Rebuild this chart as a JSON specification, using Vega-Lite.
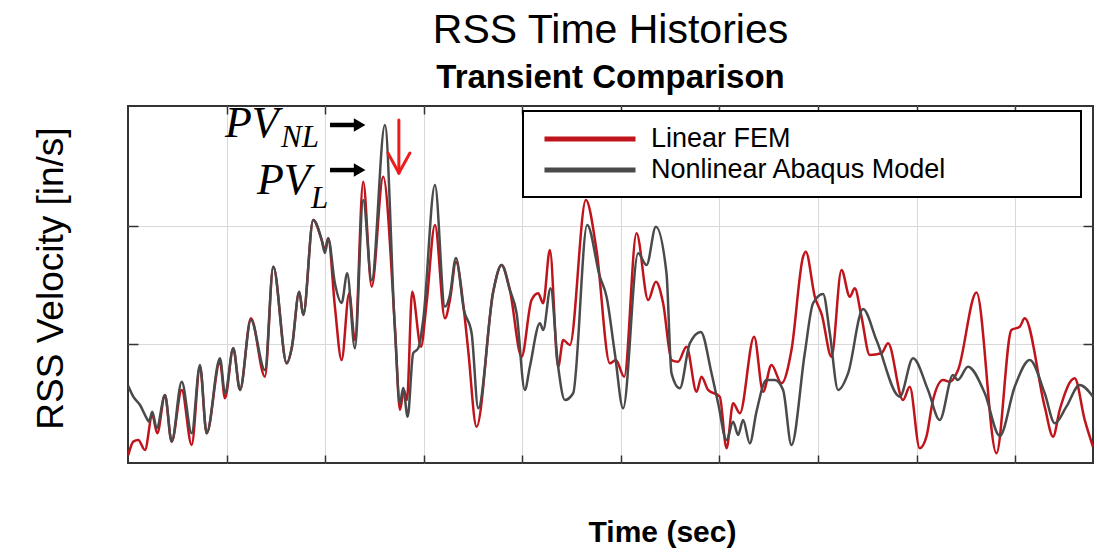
{
  "$schema": "https://vega.github.io/schema/vega-lite/v6.json",
  "width": 965,
  "height": 357,
  "autosize": "none",
  "padding": {"left": 128, "top": 106, "right": 4, "bottom": 95},
  "background": "white",
  "title": {
    "text": "RSS Time Histories",
    "subtitle": "Transient Comparison",
    "anchor": "middle",
    "font": "Liberation Sans",
    "fontSize": 41,
    "fontWeight": "normal",
    "color": "black",
    "subtitleFont": "Liberation Sans",
    "subtitleFontSize": 33,
    "subtitleFontWeight": "bold",
    "subtitleColor": "black",
    "subtitlePadding": 10,
    "offset": 6
  },
  "config": {
    "view": {"stroke": "#333333", "strokeWidth": 2},
    "axis": {"labels": false, "domain": false, "tickColor": "#333333", "tickWidth": 1.5}
  },
  "datasets": {
    "rss": [
      {"t":0.003,"v":0.067,"series":"Linear FEM"},{"t":0.054,"v":0.180,"series":"Linear FEM"},{"t":0.104,"v":0.194,"series":"Linear FEM"},{"t":0.172,"v":0.110,"series":"Linear FEM"},{"t":0.246,"v":0.405,"series":"Linear FEM"},{"t":0.297,"v":0.250,"series":"Linear FEM"},{"t":0.375,"v":0.573,"series":"Linear FEM"},{"t":0.443,"v":0.180,"series":"Linear FEM"},{"t":0.545,"v":0.616,"series":"Linear FEM"},{"t":0.646,"v":0.152,"series":"Linear FEM"},{"t":0.730,"v":0.812,"series":"Linear FEM"},{"t":0.798,"v":0.250,"series":"Linear FEM"},{"t":0.933,"v":0.854,"series":"Linear FEM"},{"t":0.984,"v":0.546,"series":"Linear FEM"},{"t":1.068,"v":0.967,"series":"Linear FEM"},{"t":1.136,"v":0.616,"series":"Linear FEM"},{"t":1.247,"v":1.220,"series":"Linear FEM"},{"t":1.389,"v":0.728,"series":"Linear FEM"},{"t":1.474,"v":1.655,"series":"Linear FEM"},{"t":1.610,"v":0.841,"series":"Linear FEM"},{"t":1.663,"v":0.978,"series":"Linear FEM"},{"t":1.737,"v":1.444,"series":"Linear FEM"},{"t":1.778,"v":1.248,"series":"Linear FEM"},{"t":1.879,"v":2.049,"series":"Linear FEM"},{"t":1.965,"v":1.880,"series":"Linear FEM"},{"t":1.998,"v":1.796,"series":"Linear FEM"},{"t":2.031,"v":1.895,"series":"Linear FEM"},{"t":2.099,"v":1.318,"series":"Linear FEM"},{"t":2.167,"v":0.868,"series":"Linear FEM"},{"t":2.244,"v":1.431,"series":"Linear FEM"},{"t":2.302,"v":1.037,"series":"Linear FEM"},{"t":2.386,"v":2.372,"series":"Linear FEM"},{"t":2.472,"v":1.487,"series":"Linear FEM"},{"t":2.589,"v":2.414,"series":"Linear FEM"},{"t":2.708,"v":1.149,"series":"Linear FEM"},{"t":2.759,"v":0.447,"series":"Linear FEM"},{"t":2.799,"v":0.616,"series":"Linear FEM"},{"t":2.830,"v":0.531,"series":"Linear FEM"},{"t":2.883,"v":1.444,"series":"Linear FEM"},{"t":2.972,"v":0.981,"series":"Linear FEM"},{"t":3.029,"v":1.347,"series":"Linear FEM"},{"t":3.114,"v":2.007,"series":"Linear FEM"},{"t":3.215,"v":1.220,"series":"Linear FEM"},{"t":3.266,"v":1.374,"series":"Linear FEM"},{"t":3.327,"v":1.695,"series":"Linear FEM"},{"t":3.408,"v":1.290,"series":"Linear FEM"},{"t":3.451,"v":0.953,"series":"Linear FEM"},{"t":3.536,"v":0.306,"series":"Linear FEM"},{"t":3.705,"v":1.444,"series":"Linear FEM"},{"t":3.790,"v":1.669,"series":"Linear FEM"},{"t":3.874,"v":1.459,"series":"Linear FEM"},{"t":3.993,"v":0.896,"series":"Linear FEM"},{"t":4.094,"v":1.374,"series":"Linear FEM"},{"t":4.161,"v":1.431,"series":"Linear FEM"},{"t":4.212,"v":1.347,"series":"Linear FEM"},{"t":4.280,"v":1.796,"series":"Linear FEM"},{"t":4.364,"v":0.812,"series":"Linear FEM"},{"t":4.415,"v":1.037,"series":"Linear FEM"},{"t":4.483,"v":0.995,"series":"Linear FEM"},{"t":4.645,"v":2.218,"series":"Linear FEM"},{"t":4.753,"v":1.796,"series":"Linear FEM"},{"t":4.888,"v":0.841,"series":"Linear FEM"},{"t":4.949,"v":0.868,"series":"Linear FEM"},{"t":5.034,"v":0.728,"series":"Linear FEM"},{"t":5.159,"v":1.937,"series":"Linear FEM"},{"t":5.277,"v":1.374,"series":"Linear FEM"},{"t":5.355,"v":1.529,"series":"Linear FEM"},{"t":5.429,"v":1.347,"series":"Linear FEM"},{"t":5.514,"v":0.868,"series":"Linear FEM"},{"t":5.581,"v":0.854,"series":"Linear FEM"},{"t":5.666,"v":0.981,"series":"Linear FEM"},{"t":5.768,"v":0.601,"series":"Linear FEM"},{"t":5.818,"v":0.728,"series":"Linear FEM"},{"t":5.885,"v":0.616,"series":"Linear FEM"},{"t":6.004,"v":0.559,"series":"Linear FEM"},{"t":6.072,"v":0.124,"series":"Linear FEM"},{"t":6.139,"v":0.503,"series":"Linear FEM"},{"t":6.207,"v":0.419,"series":"Linear FEM"},{"t":6.352,"v":1.065,"series":"Linear FEM"},{"t":6.443,"v":0.601,"series":"Linear FEM"},{"t":6.528,"v":0.826,"series":"Linear FEM"},{"t":6.630,"v":0.672,"series":"Linear FEM"},{"t":6.731,"v":0.953,"series":"Linear FEM"},{"t":6.849,"v":1.740,"series":"Linear FEM"},{"t":6.876,"v":1.782,"series":"Linear FEM"},{"t":6.968,"v":1.402,"series":"Linear FEM"},{"t":7.039,"v":1.248,"series":"Linear FEM"},{"t":7.137,"v":0.896,"series":"Linear FEM"},{"t":7.238,"v":1.627,"series":"Linear FEM"},{"t":7.323,"v":1.402,"series":"Linear FEM"},{"t":7.373,"v":1.473,"series":"Linear FEM"},{"t":7.441,"v":1.234,"series":"Linear FEM"},{"t":7.525,"v":0.911,"series":"Linear FEM"},{"t":7.644,"v":0.925,"series":"Linear FEM"},{"t":7.711,"v":1.009,"series":"Linear FEM"},{"t":7.863,"v":0.531,"series":"Linear FEM"},{"t":7.931,"v":0.643,"series":"Linear FEM"},{"t":8.032,"v":0.124,"series":"Linear FEM"},{"t":8.100,"v":0.222,"series":"Linear FEM"},{"t":8.167,"v":0.531,"series":"Linear FEM"},{"t":8.269,"v":0.700,"series":"Linear FEM"},{"t":8.337,"v":0.683,"series":"Linear FEM"},{"t":8.421,"v":0.784,"series":"Linear FEM"},{"t":8.608,"v":1.438,"series":"Linear FEM"},{"t":8.810,"v":0.082,"series":"Linear FEM"},{"t":8.962,"v":1.121,"series":"Linear FEM"},{"t":9.047,"v":1.149,"series":"Linear FEM"},{"t":9.097,"v":1.220,"series":"Linear FEM"},{"t":9.300,"v":0.475,"series":"Linear FEM"},{"t":9.385,"v":0.222,"series":"Linear FEM"},{"t":9.452,"v":0.447,"series":"Linear FEM"},{"t":9.604,"v":0.714,"series":"Linear FEM"},{"t":9.706,"v":0.363,"series":"Linear FEM"},{"t":9.790,"v":0.137,"series":"Linear FEM"},
      {"t":0.003,"v":0.649,"series":"Nonlinear Abaqus Model"},{"t":0.054,"v":0.559,"series":"Nonlinear Abaqus Model"},{"t":0.122,"v":0.489,"series":"Nonlinear Abaqus Model"},{"t":0.190,"v":0.377,"series":"Nonlinear Abaqus Model"},{"t":0.213,"v":0.348,"series":"Nonlinear Abaqus Model"},{"t":0.246,"v":0.433,"series":"Nonlinear Abaqus Model"},{"t":0.291,"v":0.293,"series":"Nonlinear Abaqus Model"},{"t":0.375,"v":0.573,"series":"Nonlinear Abaqus Model"},{"t":0.443,"v":0.180,"series":"Nonlinear Abaqus Model"},{"t":0.545,"v":0.686,"series":"Nonlinear Abaqus Model"},{"t":0.646,"v":0.250,"series":"Nonlinear Abaqus Model"},{"t":0.730,"v":0.826,"series":"Nonlinear Abaqus Model"},{"t":0.798,"v":0.250,"series":"Nonlinear Abaqus Model"},{"t":0.933,"v":0.883,"series":"Nonlinear Abaqus Model"},{"t":0.984,"v":0.588,"series":"Nonlinear Abaqus Model"},{"t":1.068,"v":0.967,"series":"Nonlinear Abaqus Model"},{"t":1.136,"v":0.616,"series":"Nonlinear Abaqus Model"},{"t":1.247,"v":1.206,"series":"Nonlinear Abaqus Model"},{"t":1.389,"v":0.784,"series":"Nonlinear Abaqus Model"},{"t":1.474,"v":1.655,"series":"Nonlinear Abaqus Model"},{"t":1.610,"v":0.841,"series":"Nonlinear Abaqus Model"},{"t":1.663,"v":0.978,"series":"Nonlinear Abaqus Model"},{"t":1.737,"v":1.444,"series":"Nonlinear Abaqus Model"},{"t":1.778,"v":1.248,"series":"Nonlinear Abaqus Model"},{"t":1.879,"v":2.049,"series":"Nonlinear Abaqus Model"},{"t":1.965,"v":1.880,"series":"Nonlinear Abaqus Model"},{"t":1.998,"v":1.771,"series":"Nonlinear Abaqus Model"},{"t":2.031,"v":1.895,"series":"Nonlinear Abaqus Model"},{"t":2.099,"v":1.515,"series":"Nonlinear Abaqus Model"},{"t":2.167,"v":1.349,"series":"Nonlinear Abaqus Model"},{"t":2.224,"v":1.600,"series":"Nonlinear Abaqus Model"},{"t":2.302,"v":0.967,"series":"Nonlinear Abaqus Model"},{"t":2.386,"v":2.218,"series":"Nonlinear Abaqus Model"},{"t":2.472,"v":1.540,"series":"Nonlinear Abaqus Model"},{"t":2.606,"v":2.850,"series":"Nonlinear Abaqus Model"},{"t":2.708,"v":1.121,"series":"Nonlinear Abaqus Model"},{"t":2.759,"v":0.503,"series":"Nonlinear Abaqus Model"},{"t":2.792,"v":0.632,"series":"Nonlinear Abaqus Model"},{"t":2.837,"v":0.390,"series":"Nonlinear Abaqus Model"},{"t":2.893,"v":0.925,"series":"Nonlinear Abaqus Model"},{"t":2.944,"v":0.967,"series":"Nonlinear Abaqus Model"},{"t":2.995,"v":1.206,"series":"Nonlinear Abaqus Model"},{"t":3.114,"v":2.344,"series":"Nonlinear Abaqus Model"},{"t":3.215,"v":1.318,"series":"Nonlinear Abaqus Model"},{"t":3.266,"v":1.417,"series":"Nonlinear Abaqus Model"},{"t":3.327,"v":1.729,"series":"Nonlinear Abaqus Model"},{"t":3.408,"v":1.290,"series":"Nonlinear Abaqus Model"},{"t":3.486,"v":1.094,"series":"Nonlinear Abaqus Model"},{"t":3.553,"v":0.461,"series":"Nonlinear Abaqus Model"},{"t":3.705,"v":1.444,"series":"Nonlinear Abaqus Model"},{"t":3.790,"v":1.669,"series":"Nonlinear Abaqus Model"},{"t":3.874,"v":1.459,"series":"Nonlinear Abaqus Model"},{"t":3.942,"v":1.265,"series":"Nonlinear Abaqus Model"},{"t":4.026,"v":0.616,"series":"Nonlinear Abaqus Model"},{"t":4.077,"v":0.812,"series":"Nonlinear Abaqus Model"},{"t":4.179,"v":1.178,"series":"Nonlinear Abaqus Model"},{"t":4.212,"v":1.121,"series":"Nonlinear Abaqus Model"},{"t":4.287,"v":1.473,"series":"Nonlinear Abaqus Model"},{"t":4.364,"v":0.812,"series":"Nonlinear Abaqus Model"},{"t":4.432,"v":0.531,"series":"Nonlinear Abaqus Model"},{"t":4.516,"v":0.588,"series":"Nonlinear Abaqus Model"},{"t":4.658,"v":2.007,"series":"Nonlinear Abaqus Model"},{"t":4.787,"v":1.571,"series":"Nonlinear Abaqus Model"},{"t":4.855,"v":1.402,"series":"Nonlinear Abaqus Model"},{"t":4.939,"v":0.925,"series":"Nonlinear Abaqus Model"},{"t":5.023,"v":0.461,"series":"Nonlinear Abaqus Model"},{"t":5.175,"v":1.768,"series":"Nonlinear Abaqus Model"},{"t":5.261,"v":1.669,"series":"Nonlinear Abaqus Model"},{"t":5.355,"v":1.992,"series":"Nonlinear Abaqus Model"},{"t":5.463,"v":1.600,"series":"Nonlinear Abaqus Model"},{"t":5.514,"v":0.756,"series":"Nonlinear Abaqus Model"},{"t":5.598,"v":0.630,"series":"Nonlinear Abaqus Model"},{"t":5.700,"v":1.009,"series":"Nonlinear Abaqus Model"},{"t":5.811,"v":1.105,"series":"Nonlinear Abaqus Model"},{"t":5.920,"v":0.756,"series":"Nonlinear Abaqus Model"},{"t":5.987,"v":0.503,"series":"Nonlinear Abaqus Model"},{"t":6.072,"v":0.194,"series":"Nonlinear Abaqus Model"},{"t":6.139,"v":0.348,"series":"Nonlinear Abaqus Model"},{"t":6.190,"v":0.236,"series":"Nonlinear Abaqus Model"},{"t":6.240,"v":0.363,"series":"Nonlinear Abaqus Model"},{"t":6.308,"v":0.166,"series":"Nonlinear Abaqus Model"},{"t":6.376,"v":0.433,"series":"Nonlinear Abaqus Model"},{"t":6.477,"v":0.700,"series":"Nonlinear Abaqus Model"},{"t":6.562,"v":0.700,"series":"Nonlinear Abaqus Model"},{"t":6.646,"v":0.616,"series":"Nonlinear Abaqus Model"},{"t":6.731,"v":0.152,"series":"Nonlinear Abaqus Model"},{"t":6.866,"v":0.925,"series":"Nonlinear Abaqus Model"},{"t":6.950,"v":1.347,"series":"Nonlinear Abaqus Model"},{"t":7.052,"v":1.425,"series":"Nonlinear Abaqus Model"},{"t":7.120,"v":1.094,"series":"Nonlinear Abaqus Model"},{"t":7.204,"v":0.616,"series":"Nonlinear Abaqus Model"},{"t":7.305,"v":0.756,"series":"Nonlinear Abaqus Model"},{"t":7.457,"v":1.298,"series":"Nonlinear Abaqus Model"},{"t":7.593,"v":1.037,"series":"Nonlinear Abaqus Model"},{"t":7.830,"v":0.559,"series":"Nonlinear Abaqus Model"},{"t":7.964,"v":0.883,"series":"Nonlinear Abaqus Model"},{"t":8.116,"v":0.616,"series":"Nonlinear Abaqus Model"},{"t":8.235,"v":0.363,"series":"Nonlinear Abaqus Model"},{"t":8.370,"v":0.742,"series":"Nonlinear Abaqus Model"},{"t":8.418,"v":0.700,"series":"Nonlinear Abaqus Model"},{"t":8.522,"v":0.812,"series":"Nonlinear Abaqus Model"},{"t":8.692,"v":0.588,"series":"Nonlinear Abaqus Model"},{"t":8.844,"v":0.228,"series":"Nonlinear Abaqus Model"},{"t":8.996,"v":0.643,"series":"Nonlinear Abaqus Model"},{"t":9.148,"v":0.868,"series":"Nonlinear Abaqus Model"},{"t":9.300,"v":0.588,"series":"Nonlinear Abaqus Model"},{"t":9.402,"v":0.335,"series":"Nonlinear Abaqus Model"},{"t":9.520,"v":0.475,"series":"Nonlinear Abaqus Model"},{"t":9.655,"v":0.658,"series":"Nonlinear Abaqus Model"},{"t":9.790,"v":0.559,"series":"Nonlinear Abaqus Model"}
    ],
    "pvBig": [
      {"t": 0.984, "v": 2.749, "label": "PV"},
      {"t": 1.308, "v": 2.268, "label": "PV"}
    ],
    "pvSub": [
      {"t": 1.552, "v": 2.664, "label": "NL"},
      {"t": 1.856, "v": 2.150, "label": "L"}
    ],
    "arrows": [
      {"t": 2.049, "t2": 2.30, "v": 2.850, "tip": 2.35},
      {"t": 2.049, "t2": 2.30, "v": 2.470, "tip": 2.35}
    ],
    "redArrow": [
      {"t": 2.748, "v": 2.892, "t2": 2.748, "v2": 2.445},
      {"t": 2.637, "v": 2.614, "t2": 2.748, "v2": 2.445},
      {"t": 2.860, "v": 2.614, "t2": 2.748, "v2": 2.445}
    ]
  },
  "resolve": {"axis": {"x": "independent", "y": "independent"}},
  "layer": [
    {
      "data": {"name": "rss"},
      "mark": {"type": "line", "interpolate": "monotone", "strokeWidth": 2.5},
      "encoding": {
        "x": {
          "field": "t", "type": "quantitative",
          "scale": {"domain": [0, 9.79], "nice": false, "zero": false},
          "axis": {
            "orient": "bottom", "values": [1,2,3,4,5,6,7,8,9],
            "tickSize": -8, "grid": true, "gridColor": "#d9d9d9", "gridWidth": 1,
            "title": "Time (sec)", "titleFont": "Liberation Sans", "titleFontSize": 30,
            "titleFontWeight": "bold", "titleColor": "black",
            "titleX": 534, "titleY": 78, "titleAlign": "center", "titleBaseline": "alphabetic"
          }
        },
        "y": {
          "field": "v", "type": "quantitative",
          "scale": {"domain": [0, 3.01], "nice": false, "zero": false},
          "axis": {
            "orient": "left", "values": [1, 2],
            "tickSize": -10, "grid": true, "gridColor": "#d9d9d9", "gridWidth": 1,
            "title": "RSS Velocity [in/s]", "titleFont": "Liberation Sans", "titleFontSize": 37,
            "titleFontWeight": "normal", "titleColor": "black",
            "titleAngle": -90, "titleX": -66, "titleY": 172, "titleAlign": "center", "titleBaseline": "alphabetic"
          }
        },
        "color": {
          "field": "series", "type": "nominal",
          "scale": {"domain": ["Linear FEM", "Nonlinear Abaqus Model"], "range": ["#c0141c", "#4a4a4a"]},
          "legend": {
            "orient": "none", "legendX": 395, "legendY": 5, "title": null,
            "symbolType": "M-4,0H4", "symbolSize": 518, "symbolStrokeWidth": 5,
            "symbolOffset": 39,
            "labelFont": "Liberation Sans", "labelFontSize": 27, "labelColor": "black",
            "labelOffset": 47, "labelLimit": 1000, "rowPadding": 4, "padding": 14,
            "strokeColor": "black", "fillColor": "white",
            "labelExpr": "datum.label + '\u2800\u2800\u2800\u2800\u2800\u2800'",
            "encode": {
              "legend": {"update": {"strokeWidth": {"value": 2}}},
              "symbols": {"update": {"stroke": {"signal": "datum.value === 'Linear FEM' ? '#c00000' : '#808080'"}}}
            }
          }
        }
      }
    },
    {
      "data": {"name": "rss"},
      "mark": {"type": "point", "opacity": 0, "size": 0},
      "encoding": {
        "x": {"field": "t", "type": "quantitative", "axis": {"orient": "top", "values": [1,2,3,4,5,6,7,8,9], "tickSize": -8, "grid": false, "title": null}},
        "y": {"field": "v", "type": "quantitative", "axis": {"orient": "right", "values": [1, 2], "tickSize": -10, "grid": false, "title": null}}
      }
    },
    {
      "data": {"name": "pvBig"},
      "mark": {"type": "text", "font": "Liberation Serif", "fontStyle": "italic", "fontSize": 44, "align": "left", "baseline": "alphabetic", "color": "black"},
      "encoding": {
        "x": {"field": "t", "type": "quantitative", "axis": null},
        "y": {"field": "v", "type": "quantitative", "axis": null},
        "text": {"field": "label"}
      }
    },
    {
      "data": {"name": "pvSub"},
      "mark": {"type": "text", "font": "Liberation Serif", "fontStyle": "italic", "fontSize": 31, "align": "left", "baseline": "alphabetic", "color": "black"},
      "encoding": {
        "x": {"field": "t", "type": "quantitative", "axis": null},
        "y": {"field": "v", "type": "quantitative", "axis": null},
        "text": {"field": "label"}
      }
    },
    {
      "data": {"name": "arrows"},
      "mark": {"type": "rule", "strokeWidth": 4.5, "color": "black"},
      "encoding": {
        "x": {"field": "t", "type": "quantitative", "axis": null},
        "x2": {"field": "t2"},
        "y": {"field": "v", "type": "quantitative", "axis": null}
      }
    },
    {
      "data": {"name": "arrows"},
      "mark": {"type": "point", "shape": "triangle-right", "filled": true, "size": 180, "color": "black", "opacity": 1},
      "encoding": {
        "x": {"field": "tip", "type": "quantitative", "axis": null},
        "y": {"field": "v", "type": "quantitative", "axis": null}
      }
    },
    {
      "data": {"name": "redArrow"},
      "mark": {"type": "rule", "strokeWidth": 3, "color": "#ee1c1c", "strokeCap": "round"},
      "encoding": {
        "x": {"field": "t", "type": "quantitative", "axis": null},
        "x2": {"field": "t2"},
        "y": {"field": "v", "type": "quantitative", "axis": null},
        "y2": {"field": "v2"}
      }
    }
  ]
}
